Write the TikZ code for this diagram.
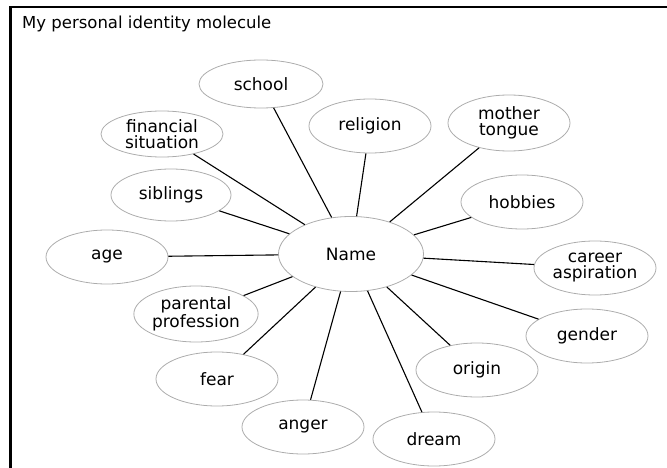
\documentclass[tikz,border=0pt]{standalone}
\usepackage{fontspec}
\setmainfont{DejaVu Sans}
\usetikzlibrary{shapes.geometric}

\tikzset{
  blob/.style={draw=gray!65, line width=0.8pt, ellipse, inner sep=0pt, minimum width=122pt, minimum height=54pt,
    align=center, font=\fontsize{17}{16}\selectfont},
  link/.style={draw=black, line width=1.1pt},
}

\begin{document}
\begin{tikzpicture}[x=1pt, y=-1pt]
\useasboundingbox (0,0) rectangle (667,468);
% Frame
\draw[line width=2.6pt] (667,7) -- (10.7,7) -- (10.7,468);
\node[anchor=base west, font=\fontsize{16.5}{16}\selectfont, inner sep=0pt] (title) at (22,29) {My personal identity molecule};
% Centre
\node[blob, minimum width=145pt, minimum height=75pt] (name) at (351,254) {Name};
% Outer ellipses
\node[blob, minimum width=124pt, minimum height=48pt] (school) at (261,84) {school};
\node[blob, minimum height=46pt] (financial) at (162,134) {financial\\situation};
\node[blob] (religion) at (370,126) {religion};
\node[blob, minimum height=56pt] (mother) at (509,123) {mother\\tongue};
\node[blob] (hobbies) at (522,202) {hobbies};
\node[blob] (career) at (595,268) {career\\aspiration};
\node[blob] (gender) at (587,336) {gender};
\node[blob] (origin) at (477,370) {origin};
\node[blob] (dream) at (434,439) {dream};
\node[blob] (anger) at (303,427) {anger};
\node[blob] (fear) at (217,379) {fear};
\node[blob, minimum height=56pt] (parental) at (196,314) {parental\\profession};
\node[blob] (age) at (107,257) {age};
\node[blob, minimum width=120pt, minimum height=52pt] (siblings) at (171,195) {siblings};
% Spokes
\foreach \n in {school,financial,religion,mother,hobbies,career,gender,origin,dream,anger,fear,parental,age,siblings}
  \draw[link] (\n) -- (name);
\end{tikzpicture}
\end{document}
